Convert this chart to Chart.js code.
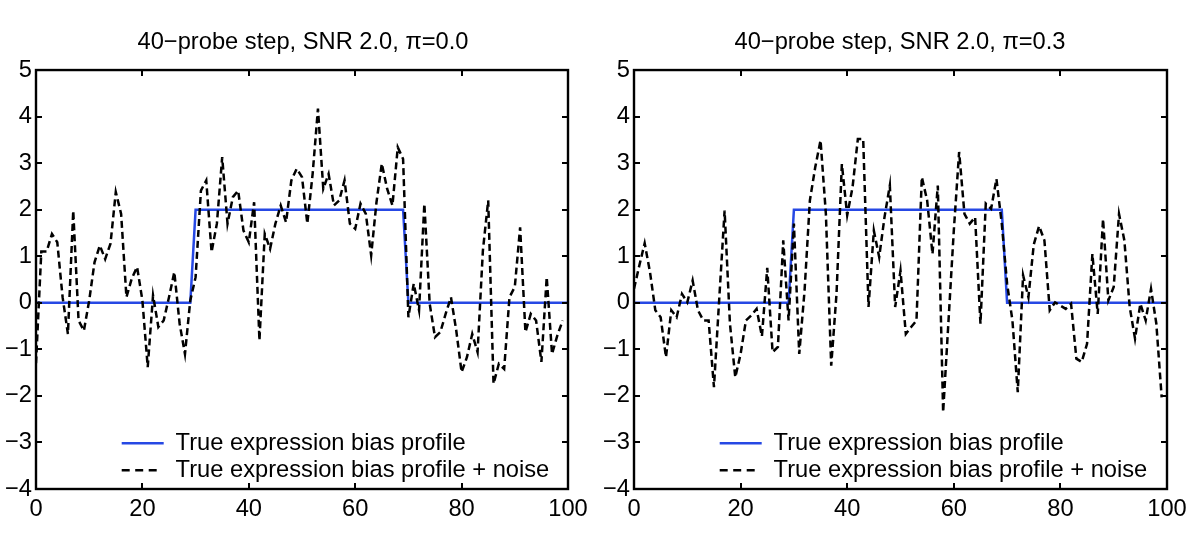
<!DOCTYPE html>
<html>
<head>
<meta charset="utf-8">
<script src="https://cdn.jsdelivr.net/npm/chart.js@4.4.1/dist/chart.umd.min.js"></script>
<style>
  body { margin: 0; background: #fff; }
  .panel { position: absolute; top: 0; width: 600px; height: 546px; }
</style>
</head>
<body>
<div class="panel" style="left:0px"><canvas id="c1" width="600" height="546"></canvas></div>
<div class="panel" style="left:600px"><canvas id="c2" width="600" height="546"></canvas></div>
<script>
// ---- data ----
const titleLeft = "40\u2212probe step, SNR 2.0, \u03C0=0.0";
const titleRight = "40\u2212probe step, SNR 2.0, \u03C0=0.3";
const legendLabels = ["True expression bias profile", "True expression bias profile + noise"];

// true step profile (breakpoints)
const stepX = [0, 29, 30, 69, 70, 100];
const stepY = [0, 0, 2, 2, 0, 0];

// noisy profile, probes 0..99
const noiseLeft = [
  -1.3, 1.1, 1.1, 1.48, 1.3, 0.12, -0.67, 1.98, -0.38, -0.6,
  0.05, 0.87, 1.23, 0.94, 1.27, 2.38, 1.91, 0.12, 0.52, 0.77,
  0.05, -1.38, 0.16, -0.52, -0.38, 0.12, 0.66, -0.45, -1.1, 0.05,
  0.55, 2.41, 2.63, 1.09, 1.7, 3.13, 1.7, 2.27, 2.41, 1.55,
  1.3, 2.16, -0.81, 1.48, 1.16, 1.7, 2.09, 1.73, 2.63, 2.88,
  2.7, 1.7, 2.77, 4.17, 2.45, 2.77, 2.09, 2.2, 2.63, 1.7,
  1.59, 2.13, 1.91, 1.02, 2.16, 2.99, 2.45, 2.09, 3.34, 3.09,
  -0.31, 0.41, -0.16, 2.13, -0.02, -0.74, -0.63, -0.24, 0.12, -0.6,
  -1.49, -1.17, -0.67, -1.06, 1.12, 2.2, -1.74, -1.31, -1.42, 0.12,
  0.34, 1.62, -0.63, -0.24, -0.38, -1.27, 0.55, -1.1, -0.7, -0.38
];
const noiseRight = [
  0.3, 0.8, 1.28, 0.66, -0.16, -0.31, -1.17, -0.16, -0.31, 0.19,
  0.01, 0.48, -0.16, -0.38, -0.38, -1.81, 0.1, 1.98, -0.45, -1.6,
  -1.1, -0.38, -0.27, -0.13, -0.72, 0.75, -1.06, -0.95, 1.34, -0.38,
  1.7, -1.1, 0.26, 2.2, 2.91, 3.49, 1.91, -1.35, 0.2, 2.98,
  1.88, 2.48, 3.52, 3.52, -0.09, 1.55, 0.98, 1.84, 2.52, -0.09,
  0.69, -0.67, -0.52, -0.38, 2.7, 2.2, 1.05, 2.52, -2.35, -0.4,
  1.55, 3.24, 1.91, 1.7, 1.84, -0.45, 2.13, 2.02, 2.66, 1.7,
  0.41, -0.38, -1.92, 0.59, 0.12, 1.25, 1.65, 1.34, -0.16, 0.01,
  -0.06, -0.13, -0.02, -1.2, -1.27, -0.88, 1.05, -0.24, 1.8, 0.05,
  0.34, 1.91, 1.34, -0.09, -0.77, -0.02, -0.38, 0.3, -0.45, -2.03
];

const xMin = 0, xMax = 100, xStep = 20;
const yMin = -4, yMax = 5, yStep = 1;

// ---- styling ----
const FS = 23.7;
Chart.defaults.font.family = '"Liberation Sans", Arial, Helvetica, sans-serif';
Chart.defaults.font.size = FS;
Chart.defaults.color = '#000';

const BLUE = 'rgb(38,72,228)';
const LW = 2.5;

const framePlugin = {
  id: 'frame',
  afterDraw(chart) {
    const ctx = chart.ctx, ca = chart.chartArea;
    const xs = chart.scales.x, ys = chart.scales.y;
    const tl = 6;
    ctx.save();
    ctx.strokeStyle = '#000';
    ctx.lineWidth = 2;
    ctx.beginPath();
    xs.ticks.forEach(t => {
      const px = Math.round(xs.getPixelForValue(t.value));
      ctx.moveTo(px, ca.bottom); ctx.lineTo(px, ca.bottom - tl);
      ctx.moveTo(px, ca.top); ctx.lineTo(px, ca.top + tl);
    });
    ys.ticks.forEach(t => {
      const py = Math.round(ys.getPixelForValue(t.value));
      ctx.moveTo(ca.left, py); ctx.lineTo(ca.left + tl, py);
      ctx.moveTo(ca.right, py); ctx.lineTo(ca.right - tl, py);
    });
    ctx.stroke();
    ctx.lineWidth = 2.4;
    ctx.strokeRect(ca.left, ca.top, ca.right - ca.left, ca.bottom - ca.top);
    ctx.restore();
  }
};

const legendPlace = {
  id: 'legendPlace',
  beforeDraw(chart) {
    const lg = chart.legend, ca = chart.chartArea;
    if (!lg) return;
    lg.left = ca.left + 85.7 - 3.3;
    lg.bottom = ca.bottom - 3.5;
  }
};

function makeChart(id, title, noise, padLeft, axisWidth, rightWidth) {
  return new Chart(document.getElementById(id), {
    type: 'line',
    data: {
      datasets: [
        {
          label: legendLabels[0],
          data: stepX.map((x, i) => ({ x: x, y: stepY[i] })),
          borderColor: BLUE,
          backgroundColor: BLUE,
          borderWidth: LW,
          pointRadius: 0,
          tension: 0,
          order: 1
        },
        {
          label: legendLabels[1],
          data: noise.map((v, i) => ({ x: i, y: v })),
          borderColor: '#000',
          backgroundColor: '#000',
          borderWidth: LW,
          borderDash: [7, 4],
          pointRadius: 0,
          tension: 0,
          order: 0
        }
      ]
    },
    options: {
      responsive: false,
      animation: false,
      events: [],
      layout: { padding: { left: padLeft, right: 0, top: 0, bottom: 0 } },
      scales: {
        x: {
          type: 'linear',
          min: xMin, max: xMax,
          afterFit: s => { s.height = 57; },
          grid: { display: false, drawTicks: false },
          border: { display: false },
          ticks: { stepSize: xStep, padding: 6, maxRotation: 0, font: { size: FS }, color: '#000' }
        },
        y: {
          type: 'linear',
          position: 'left',
          min: yMin, max: yMax,
          afterFit: s => { s.width = axisWidth; },
          grid: { display: false, drawTicks: false },
          border: { display: false },
          ticks: {
            stepSize: yStep, padding: 4, font: { size: FS }, color: '#000',
            callback: v => String(v).replace('-', '\u2212')
          }
        },
        yRight: {
          type: 'linear',
          position: 'right',
          min: yMin, max: yMax,
          afterFit: s => { s.width = rightWidth; },
          grid: { display: false, drawTicks: false },
          border: { display: false },
          ticks: { display: false }
        }
      },
      plugins: {
        title: {
          display: true,
          text: title,
          color: '#000',
          font: { size: FS, weight: 'normal' },
          padding: { top: 27.8, bottom: 13.8 }
        },
        legend: {
          display: true,
          position: 'chartArea',
          align: 'end',
          labels: {
            usePointStyle: true,
            pointStyle: 'line',
            pointStyleWidth: 42,
            padding: 3.3,
            color: '#000',
            font: { size: FS },
            sort: (a, b) => a.datasetIndex - b.datasetIndex,
            generateLabels: (chart) => {
              const items = Chart.defaults.plugins.legend.labels.generateLabels(chart);
              items.forEach(it => {
                const ds = chart.data.datasets[it.datasetIndex];
                it.lineDash = ds.borderDash ? [8, 5.5, 8, 5.5, 8, 100] : [];
                it.lineWidth = ds.borderWidth;
                it.strokeStyle = ds.borderColor;
                it.fillStyle = ds.borderColor;
                it.pointStyle = 'line';
              });
              return items;
            }
          }
        },
        tooltip: { enabled: false }
      }
    },
    plugins: [framePlugin, legendPlace]
  });
}

makeChart('c1', titleLeft, noiseLeft, 6, 30, 32);
makeChart('c2', titleRight, noiseRight, 0, 34, 33);
</script>
</body>
</html>
